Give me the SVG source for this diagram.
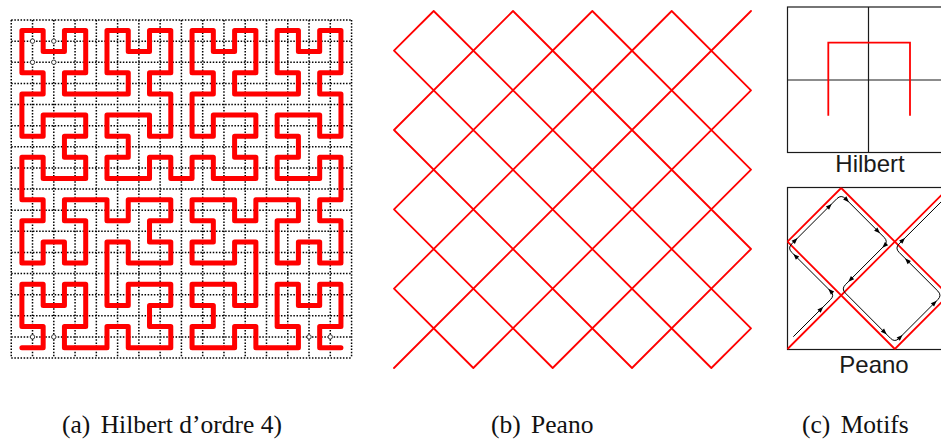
<svg xmlns="http://www.w3.org/2000/svg" xmlns:xlink="http://www.w3.org/1999/xlink" width="941" height="443" viewBox="0 0 941 443">
<style>
.grid{fill:none;stroke:#000;stroke-width:1.5;stroke-dasharray:1.5 1.6}
.hil{fill:none;stroke:#ff0000;stroke-width:5;stroke-linejoin:round;stroke-linecap:round}
.pea{fill:none;stroke:#ff0000;stroke-width:1.8;stroke-linecap:round}
.box{fill:none;stroke:#1a1a1a;stroke-width:1.2}
.mred{fill:none;stroke:#ff0000;stroke-width:1.8}
.trace{fill:none;stroke:#000;stroke-width:1}
.mark{fill:#fff;stroke:#111;stroke-width:0.8}
.lbl{font-family:"Liberation Sans",Arial,sans-serif;font-size:24px;fill:#1a1a1a;text-anchor:middle}
.cap{font-family:"Liberation Serif","Times New Roman",serif;font-size:25.5px;fill:#111}
</style>
<defs>
<path id="ah" d="M0,0 L-6,-2.3 L-6,2.3 Z" fill="#000"/>
</defs>
<rect width="941" height="443" fill="#fff"/>

<g id="hilbert">
<path class="grid" d="M11.25,20V358M32.52,20V358M53.79,20V358M75.06,20V358M96.33,20V358M117.6,20V358M138.87,20V358M160.14,20V358M181.41,20V358M202.68,20V358M223.95,20V358M245.22,20V358M266.49,20V358M287.76,20V358M309.03,20V358M330.3,20V358M351.57,20V358M11.25,20H351.57M11.25,41.13H351.57M11.25,62.25H351.57M11.25,83.38H351.57M11.25,104.5H351.57M11.25,125.63H351.57M11.25,146.75H351.57M11.25,167.88H351.57M11.25,189H351.57M11.25,210.13H351.57M11.25,231.25H351.57M11.25,252.38H351.57M11.25,273.5H351.57M11.25,294.63H351.57M11.25,315.75H351.57M11.25,336.88H351.57M11.25,358H351.57"/>
<circle class="mark" cx="32.52" cy="41.13" r="2.2"/>
<circle class="mark" cx="53.79" cy="41.13" r="2.2"/>
<circle class="mark" cx="32.52" cy="62.25" r="2.2"/>
<circle class="mark" cx="53.79" cy="62.25" r="2.2"/>
<circle class="mark" cx="32.52" cy="336.88" r="2.2"/>
<circle class="mark" cx="53.79" cy="336.88" r="2.2"/>
<circle class="mark" cx="309.03" cy="336.88" r="2.2"/>
<circle class="mark" cx="330.3" cy="336.88" r="2.2"/>
<path class="hil" d="M21.9,347.7
h21.27v-21.15h-21.27v-21.15v-21.15h21.27v21.15h21.27v-21.15h21.27v21.15v21.15h-21.27v21.15h21.27
h21.27
v-21.15h21.27v21.15h21.27h21.27v-21.15h-21.27v-21.15h21.27v-21.15h-21.27h-21.27v21.15h-21.27v-21.15
v-21.15
v-21.15h21.27v21.15h21.27h21.27v-21.15h-21.27v-21.15h21.27v-21.15h-21.27h-21.27v21.15h-21.27v-21.15
h-21.27
h-21.27v21.15h21.27v21.15v21.15h-21.27v-21.15h-21.27v21.15h-21.27v-21.15v-21.15h21.27v-21.15h-21.27
v-21.15
v-21.15h21.27v21.15h21.27h21.27v-21.15h-21.27v-21.15h21.27v-21.15h-21.27h-21.27v21.15h-21.27v-21.15
v-21.15
h21.27v-21.15h-21.27v-21.15v-21.15h21.27v21.15h21.27v-21.15h21.27v21.15v21.15h-21.27v21.15h21.27
h21.27
h21.27v-21.15h-21.27v-21.15v-21.15h21.27v21.15h21.27v-21.15h21.27v21.15v21.15h-21.27v21.15h21.27
v21.15
v21.15h-21.27v-21.15h-21.27h-21.27v21.15h21.27v21.15h-21.27v21.15h21.27h21.27v-21.15h21.27v21.15
h21.27
v-21.15h21.27v21.15h21.27h21.27v-21.15h-21.27v-21.15h21.27v-21.15h-21.27h-21.27v21.15h-21.27v-21.15
v-21.15
h21.27v-21.15h-21.27v-21.15v-21.15h21.27v21.15h21.27v-21.15h21.27v21.15v21.15h-21.27v21.15h21.27
h21.27
h21.27v-21.15h-21.27v-21.15v-21.15h21.27v21.15h21.27v-21.15h21.27v21.15v21.15h-21.27v21.15h21.27
v21.15
v21.15h-21.27v-21.15h-21.27h-21.27v21.15h21.27v21.15h-21.27v21.15h21.27h21.27v-21.15h21.27v21.15
v21.15
h-21.27v21.15h21.27v21.15v21.15h-21.27v-21.15h-21.27v21.15h-21.27v-21.15v-21.15h21.27v-21.15h-21.27
h-21.27
v21.15h-21.27v-21.15h-21.27h-21.27v21.15h21.27v21.15h-21.27v21.15h21.27h21.27v-21.15h21.27v21.15
v21.15
v21.15h-21.27v-21.15h-21.27h-21.27v21.15h21.27v21.15h-21.27v21.15h21.27h21.27v-21.15h21.27v21.15
h21.27
h21.27v-21.15h-21.27v-21.15v-21.15h21.27v21.15h21.27v-21.15h21.27v21.15v21.15h-21.27v21.15h21.27"/>
</g>

<g id="peano">
<path class="pea" d="M394,50.67L433.67,11M394,130L513,11M394,209.33L592.33,11M394,288.67L671.67,11M394,368L751,11M473.33,368L751,90.33M552.67,368L751,169.67M632,368L751,249M711.33,368L751,328.33M394,288.67L473.33,368M394,209.33L552.67,368M394,130L632,368M394,50.67L711.33,368M433.67,11L751,328.33M513,11L751,249M592.33,11L751,169.67M671.67,11L751,90.33"/>
</g>

<g id="motif-hilbert">
<rect class="box" x="787.5" y="7" width="162" height="145.5"/>
<path class="box" d="M868.5,7V152.5M787.5,80H949.5"/>
<path class="mred" d="M828.3,115.7V42.7H910V115.7"/>
<text class="lbl" x="870" y="172">Hilbert</text>
</g>

<g id="motif-peano">
<rect class="box" x="787.5" y="187.5" width="162" height="162"/>
<path class="mred" d="M787.5,241.67L841.17,188M787.5,349L948.5,188M894.83,349L948.5,295.33M787.5,241.67L894.83,349M841.17,188L948.5,295.33"/>
<path class="trace" d="M793.3,336.7L830.56,299.54Q834.8,295.3 830.56,291.06L791.74,252.34Q787.5,248.1 791.74,243.86L836.93,198.64Q841.17,194.4 845.41,198.64L884.16,237.43Q888.4,241.67 884.16,245.91L845.41,284.66Q841.17,288.9 845.41,293.14L890.59,338.36Q894.83,342.6 899.07,338.36L937.86,299.57Q942.1,295.33 937.86,291.09L899.07,252.34Q894.83,248.1 899.07,243.86L955,188"/>
<use xlink:href="#ah" transform="translate(823.3,306.8) rotate(-45)"/>
<use xlink:href="#ah" transform="translate(828.3,288.8) rotate(-135)"/>
<use xlink:href="#ah" transform="translate(793.3,253.9) rotate(-135)"/>
<use xlink:href="#ah" transform="translate(797.5,238.1) rotate(-45)"/>
<use xlink:href="#ah" transform="translate(831.7,203.9) rotate(-45)"/>
<use xlink:href="#ah" transform="translate(849,202.2) rotate(45)"/>
<use xlink:href="#ah" transform="translate(880,233.3) rotate(45)"/>
<use xlink:href="#ah" transform="translate(882.3,247.8) rotate(135)"/>
<use xlink:href="#ah" transform="translate(848.3,281.8) rotate(135)"/>
<use xlink:href="#ah" transform="translate(886.7,334.4) rotate(45)"/>
<use xlink:href="#ah" transform="translate(902.5,334.9) rotate(-45)"/>
<use xlink:href="#ah" transform="translate(936.7,300.7) rotate(-45)"/>
<use xlink:href="#ah" transform="translate(905,258.3) rotate(-135)"/>
<use xlink:href="#ah" transform="translate(905,237.9) rotate(-45)"/>
<text class="lbl" x="874" y="372.5">Peano</text>
</g>

<g id="captions">
<text class="cap" x="62" y="433">(a)<tspan dx="4"> Hilbert d’ordre 4)</tspan></text>
<text class="cap" x="491" y="433">(b)<tspan dx="4"> Peano</tspan></text>
<text class="cap" x="802" y="433">(c)<tspan dx="4"> Motifs</tspan></text>
</g>
</svg>
